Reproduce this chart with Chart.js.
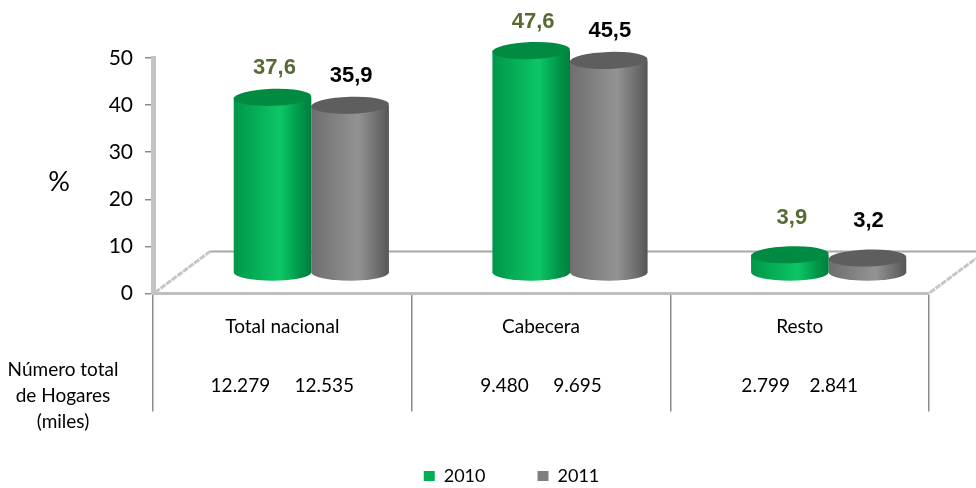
<!DOCTYPE html>
<html><head><meta charset="utf-8">
<style>html,body{margin:0;padding:0;background:#fff}#w{width:976px;height:488px}</style>
<script src="https://cdn.jsdelivr.net/npm/chart.js@4"></script>
</head><body><div id="w"><canvas id="c"></canvas></div>
<script>
const categories = ['Total nacional', 'Cabecera', 'Resto'];
const values2010 = [37.6, 47.6, 3.9];
const values2011 = [35.9, 45.5, 3.2];
const hogares2010 = ['12.279', '9.480', '2.799'];
const hogares2011 = ['12.535', '9.695', '2.841'];
const hogaresGaps = ['     ', '     ', '    '];
const seriesNames = ['2010', '2011'];
const rowTitle = ['Número total', 'de Hogares', '(miles)'];
const yTitle = '%';

const LATO = 'Lato, sans-serif';
const ARIAL = '"Liberation Sans", Arial, sans-serif';
const looks = [
  {edge:'#00964a', mid:'#0cc765', dark:'#007f3c', top:'#008a42', text:'#586a33'},
  {edge:'#6e6e6e', mid:'#939393', dark:'#555555', top:'#5e5e5e', text:'#000000'}
];
const DX = 29, BASE_LIFT = 20.5, RY = 8.5, DEPTH = 0.992;

function cylinder(ctx, el, look) {
  const w = el.width, cx = el.x + DX, rx = w / 2;
  const baseY = el.base - BASE_LIFT;
  const topY = baseY - (el.base - el.y) * DEPTH;
  const g = ctx.createLinearGradient(cx - rx, 0, cx + rx, 0);
  g.addColorStop(0, look.edge); g.addColorStop(0.6, look.mid);
  g.addColorStop(0.85, look.edge); g.addColorStop(1, look.dark);
  ctx.fillStyle = g;
  ctx.beginPath();
  ctx.moveTo(cx - rx, topY);
  ctx.lineTo(cx - rx, baseY);
  ctx.ellipse(cx, baseY, rx, RY, 0, Math.PI, 0, true);
  ctx.lineTo(cx + rx, topY);
  ctx.closePath();
  ctx.fill();
  ctx.fillStyle = look.top;
  ctx.beginPath();
  ctx.ellipse(cx, topY, rx, RY, -0.03, 0, Math.PI * 2);
  ctx.fill();
  return {cx, topY};
}

const cylinders = {
  id: 'cylinders',
  beforeDatasetsDraw(chart) {
    const {ctx, chartArea: a} = chart;
    ctx.save();
    ctx.strokeStyle = '#a8a8a8'; ctx.lineWidth = 2;
    ctx.beginPath(); ctx.moveTo(a.left + 57, a.bottom - 42); ctx.lineTo(chart.width, a.bottom - 42); ctx.stroke();
    ctx.strokeStyle = '#c6c6c6'; ctx.lineWidth = 3; ctx.setLineDash([6, 1]);
    ctx.beginPath();
    ctx.moveTo(a.left + 2, a.bottom - 1); ctx.lineTo(a.left + 57, a.bottom - 42);
    ctx.moveTo(a.right + 1, a.bottom - 1); ctx.lineTo(a.right + 47, a.bottom - 35);
    ctx.stroke();
    ctx.restore();
  },
  beforeDatasetDraw(chart, args) {
    const {ctx} = chart, look = looks[args.index];
    const meta = chart.getDatasetMeta(args.index);
    ctx.save();
    meta.data.forEach((el, i) => {
      const p = cylinder(ctx, el, look);
      const v = chart.data.datasets[args.index].data[i];
      ctx.fillStyle = look.text;
      ctx.font = 'bold 22px ' + ARIAL;
      ctx.textAlign = 'center'; ctx.textBaseline = 'middle';
      ctx.fillText(String(v).replace('.', ','), p.cx + (args.index ? 1 : 2), p.topY - (v < 10 ? 37 : 29));
    });
    ctx.restore();
    return false;
  },
  afterDraw(chart) {
    const {ctx, chartArea: a} = chart;
    ctx.save();
    ctx.fillStyle = '#000'; ctx.textAlign = 'center'; ctx.textBaseline = 'middle';
    ctx.font = '27px ' + LATO;
    ctx.fillText(yTitle, 59, 182);
    ctx.font = '19px ' + LATO;
    rowTitle.forEach((t, i) => ctx.fillText(t, 63, a.bottom + 76 + i * 26));
    ctx.restore();
  }
};

new Chart(document.getElementById('c'), {
  type: 'bar',
  data: {
    labels: categories,
    datasets: [
      {label: seriesNames[0], data: values2010, backgroundColor: '#00b050', categoryPercentage: 0.6, barPercentage: 1},
      {label: seriesNames[1], data: values2011, backgroundColor: '#7f7f7f', categoryPercentage: 0.6, barPercentage: 1}
    ]
  },
  options: {
    responsive: true, maintainAspectRatio: false, animation: false,
    layout: {padding: {left: 94, right: 47, top: 58, bottom: -7}},
    plugins: {
      tooltip: {enabled: false},
      legend: {
        position: 'bottom',
        labels: {boxWidth: 11, boxHeight: 10, padding: 52, color: '#000', font: {family: LATO, size: 18}}
      }
    },
    scales: {
      x: {
        afterFit(s) { s.height = 121.5; },
        border: {color: '#bfbfbf', width: 3},
        grid: {drawOnChartArea: false, tickLength: 118, tickColor: '#8c8c8c', lineWidth: 1.5},
        ticks: {
          autoSkip: false, maxRotation: 0, color: '#000', padding: -94,
          font: {family: LATO, size: 19, lineHeight: 1.03},
          callback(_, i) { return [categories[i], '', '', hogares2010[i] + hogaresGaps[i] + hogares2011[i]]; }
        }
      },
      y: {
        min: 0, max: 50,
        afterFit(s) { s.width = 59; },
        border: {color: '#c4c4c4', width: 5},
        grid: {drawOnChartArea: false, tickLength: 8, tickColor: '#8c8c8c', lineWidth: 1.5},
        ticks: {stepSize: 10, color: '#000', padding: 12, font: {family: LATO, size: 21}}
      }
    }
  },
  plugins: [cylinders]
});
</script></body></html>
